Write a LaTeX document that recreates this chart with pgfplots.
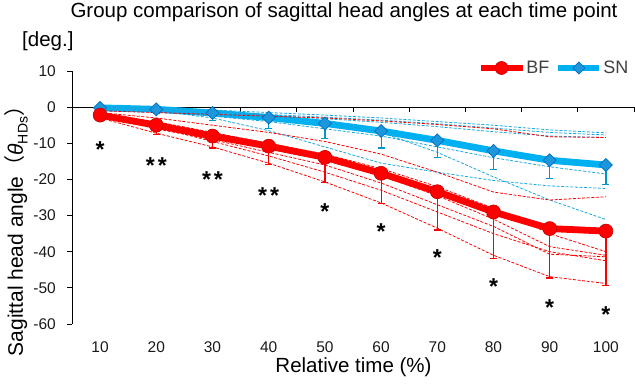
\documentclass[border=0pt]{standalone}
\usepackage{fontspec}
\setmainfont{Liberation Sans}
\newfontfamily\cjk{Noto Sans CJK JP}
\usepackage{pgfplots}
\usepackage{pgfplotstable}
\pgfplotsset{compat=1.18}

\definecolor{bfred}{HTML}{FF0000}
\definecolor{bfedge}{HTML}{C00000}
\definecolor{snline}{HTML}{00B0F0}
\definecolor{snfill}{HTML}{1E96DC}
\definecolor{snedge}{HTML}{0070C0}
\definecolor{sndashcol}{HTML}{1AA7E0}
\definecolor{legtext}{HTML}{404040}

\pgfplotstableread{
t mean err
10 -2.2 1.3
20 -5.0 2.5
30 -8.0 3.3
40 -10.8 5.0
50 -13.9 6.9
60 -18.3 8.3
70 -23.4 10.6
80 -29.0 12.8
90 -33.6 13.7
100 -34.3 15.0
}\bfmean

\pgfplotstableread{
t mean err
10 -0.2 0.6
20 -0.6 1.0
30 -1.6 2.0
40 -2.9 3.0
50 -4.5 4.2
60 -6.6 4.7
70 -9.2 4.7
80 -12.1 5.1
90 -14.7 5.0
100 -16.0 5.3
}\snmean

\pgfplotstableread{
t r1 r2 r3 r4 r5 r6 r7 b1 b2 b3 b4 b5 b6
10 -1.0 -1.5 -2.0 -2.0 -2.5 -2.0 -3.0 0.0 0.0 -0.3 0.0 0.0 0.0
20 -1.5 -3.0 -4.0 -5.0 -6.0 -5.5 -7.2 -0.3 -0.5 -0.8 -1.0 -1.0 -0.5
30 -2.0 -5.0 -7.0 -8.0 -9.0 -9.5 -11.0 -0.8 -1.2 -1.5 -2.5 -3.0 -1.5
40 -2.5 -7.0 -10.0 -11.0 -12.5 -13.5 -15.5 -1.5 -2.0 -2.2 -4.0 -6.5 -2.5
50 -3.0 -9.5 -13.0 -14.5 -16.0 -18.0 -20.7 -2.2 -2.8 -3.2 -6.0 -11.0 -4.0
60 -3.8 -13.0 -17.0 -19.0 -21.0 -23.0 -26.5 -3.0 -3.6 -4.2 -8.0 -15.5 -7.0
70 -4.8 -18.0 -22.0 -24.5 -27.0 -29.0 -33.5 -4.0 -4.6 -5.4 -11.0 -18.0 -12.5
80 -6.0 -23.5 -28.0 -31.0 -33.0 -35.0 -41.0 -5.0 -5.8 -6.8 -14.0 -20.3 -19.3
90 -8.2 -25.7 -35.0 -38.6 -40.7 -40.0 -46.9 -6.3 -7.0 -8.0 -16.5 -21.8 -25.7
100 -8.4 -24.8 -40.0 -41.0 -41.4 -42.5 -48.8 -7.1 -7.7 -8.4 -18.5 -22.5 -31.1
}\indiv

\pgfplotstableread{
t y lab
10 -10.8 *
20 -15.1 **
30 -19.1 **
40 -23.6 **
50 -27.8 *
60 -33.6 *
70 -40.7 *
80 -48.6 *
90 -54.5 *
100 -56.4 *
}\stars

\pgfplotsset{
  bfind/.style={bfred, line width=0.8pt, dash pattern=on 3pt off 1.6pt, forget plot},
  snind/.style={sndashcol, line width=0.8pt, dash pattern=on 3pt off 1.6pt, forget plot},
}

\begin{document}
\begin{tikzpicture}
\useasboundingbox (-72pt,-63pt) rectangle (563pt,324pt);
\begin{axis}[
  at={(0pt,0pt)}, anchor=south west,
  scale only axis, width=562pt, height=253pt,
  xmin=5, xmax=105, ymin=-60, ymax=10,
  axis lines=left,
  axis line style={-, black, line width=0.9pt},
  x axis line style={draw=none},
  xtick={10,20,...,100},
  ytick={-60,-50,...,10},
  tick align=outside,
  major tick length=5pt,
  xtick style={draw=none},
  ytick style={black, line width=0.9pt},
  tick label style={font=\fontsize{15.5}{18}\selectfont, /pgf/number format/assume math mode=true, text=black!90},
  yticklabel style={anchor=east, inner sep=0pt, xshift=-11pt},
  xticklabel style={anchor=base, inner sep=0pt, yshift=-24pt},
  clip=false,
  legend style={at={(axis description cs:0.7206,1.0119)}, anchor=west, draw=none, fill=none,
    inner sep=0pt, font=\fontsize{18}{20}\selectfont, text=legtext, legend columns=2,
    nodes={inner sep=0.5pt},
    /tikz/every even column/.append style={column sep=5pt}},
  legend cell align=left,
]
% zero line with ticks
\draw[black, line width=0.9pt] (axis cs:5,0) -- (axis cs:105,0);
\pgfplotsinvokeforeach{15,25,35,45,55,65,75,85,95,105}{
  \draw[black, line width=0.9pt] (axis cs:#1,0) -- ++(0pt,-5pt);
}
% thick mean lines
\addplot[bfred, line width=6.8pt, no markers, forget plot] table[x=t,y=mean]{\bfmean};
\addplot[snline, line width=6.8pt, no markers, forget plot] table[x=t,y=mean]{\snmean};
% individual dashed lines
\addplot[snind] table[x=t,y=b1]{\indiv};
\addplot[snind] table[x=t,y=b2]{\indiv};
\addplot[snind] table[x=t,y=b3]{\indiv};
\addplot[snind] table[x=t,y=b4]{\indiv};
\addplot[snind] table[x=t,y=b5]{\indiv};
\addplot[snind] table[x=t,y=b6]{\indiv};
\addplot[bfind] table[x=t,y=r1]{\indiv};
\addplot[bfind] table[x=t,y=r2]{\indiv};
\addplot[bfind] table[x=t,y=r3]{\indiv};
\addplot[bfind] table[x=t,y=r4]{\indiv};
\addplot[bfind] table[x=t,y=r5]{\indiv};
\addplot[bfind] table[x=t,y=r6]{\indiv};
\addplot[bfind] table[x=t,y=r7]{\indiv};
% markers with error bars
\addplot[only marks, mark=square*, mark size=4.6pt, forget plot,
  mark options={rotate=45, fill=snfill, draw=snedge, line width=0.7pt},
  error bars/.cd, y dir=minus, y explicit,
  error bar style={snline!85!black, line width=1.2pt},
  error mark options={snline!85!black, line width=1.2pt, mark size=3.5pt, rotate=90},
  ] table[x=t, y=mean, y error=err]{\snmean};
\addplot[only marks, mark=*, mark size=7pt, forget plot,
  mark options={fill=bfred, draw=bfedge, line width=0.6pt},
  error bars/.cd, y dir=minus, y explicit,
  error bar style={bfred, line width=1.2pt},
  error mark options={bfred, line width=1.2pt, mark size=3.5pt, rotate=90},
  ] table[x=t, y=mean, y error=err]{\bfmean};
% asterisks
\addplot[draw=none, mark=none, forget plot, nodes near coords={\ifnum\pdfstrcmp{\pgfplotspointmeta}{**}=0 *\hspace{3pt}*\else *\fi}, point meta=explicit symbolic,
  every node near coord/.style={anchor=center, inner sep=0pt, yshift=-3.5pt, font=\bfseries\fontsize{23}{24}\selectfont, text=black}]
  table[x=t, y=y, meta=lab]{\stars};
% legend
\addlegendimage{legend image code/.code={
  \draw[bfred, line width=6.8pt] (0pt,0pt) -- (42pt,0pt);
  \fill[bfred, draw=bfedge, line width=0.6pt] (21pt,0pt) circle (6.5pt);}}
\addlegendentry{BF}
\addlegendimage{legend image code/.code={
  \draw[snline, line width=6.8pt] (0pt,0pt) -- (41pt,0pt);
  \fill[snfill, draw=snedge, line width=0.7pt] (20.5pt,6pt) -- (26.5pt,0pt) -- (20.5pt,-6pt) -- (14.5pt,0pt) -- cycle;}}
\addlegendentry{SN}
\end{axis}
% texts
\node[anchor=base, inner sep=0pt, font=\fontsize{20.5}{24}\selectfont] at (272pt,306.5pt)
  {Group comparison of sagittal head angles at each time point};
\node[anchor=base west, inner sep=0pt, font=\fontsize{20.5}{24}\selectfont] at (-50pt,277pt) {[deg.]};
\node[anchor=base, inner sep=0pt, font=\fontsize{20.5}{24}\selectfont] at (281.5pt,-49pt) {Relative time (\%)};
\node[anchor=base, rotate=90, inner sep=0pt, font=\fontsize{21}{24}\selectfont] at (-49pt,98pt)
  {Sagittal head angle{\cjk （}{\itshape θ}\raisebox{-0.22em}{\fontsize{14}{16}\selectfont HDs}{\cjk ）}};
\end{tikzpicture}
\end{document}
